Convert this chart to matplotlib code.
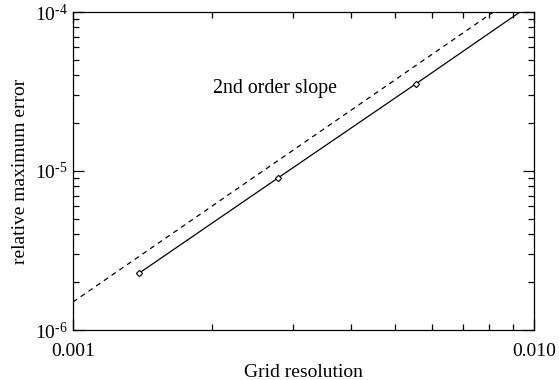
import matplotlib
matplotlib.use('Agg')
import matplotlib.pyplot as plt
from matplotlib.ticker import LogLocator, FixedLocator, NullFormatter

plt.rcParams['font.family'] = ['Liberation Serif', 'DejaVu Serif']
plt.rcParams['mathtext.fontset'] = 'custom'
plt.rcParams['mathtext.rm'] = 'Liberation Serif'
plt.rcParams['mathtext.it'] = 'Liberation Serif:italic'

# grid spacing and measured error (last point lies above the plot, clipped)
resolution = [1 / 720, 1 / 360, 1 / 180, 1 / 90]
max_error = [2.27e-6, 9.0e-6, 3.55e-5, 1.42e-4]

# reference line with 2nd order slope
slope_x = [0.001, 0.01]
slope_y = [1.5e-6, 1.5e-4]

x_ticks = [0.001, 0.01]
x_labels = ['0.001', '0.010']
y_ticks = [1e-6, 1e-5, 1e-4]
y_labels = ['$10^{\u20106}$', '$10^{\u20105}$', '$10^{\u20104}$']

fig = plt.figure(figsize=(5.59, 3.8), dpi=100)
ax = fig.add_axes([73 / 559, 50 / 380, 461 / 559, 318 / 380])

ax.plot(resolution, max_error, color='black', lw=0.9)
ax.plot(resolution[:3], max_error[:3], ls='none', marker='D', ms=3.2,
        mfc='white', mec='black', mew=0.8)
ax.plot(slope_x, slope_y, color='black', lw=0.9, ls=(0, (4, 3.5)))

ax.set_xscale('log')
ax.set_yscale('log')
ax.set_xlim(0.001, 0.01)
ax.set_ylim(1e-6, 1e-4)

ax.xaxis.set_major_locator(FixedLocator(x_ticks))
ax.set_xticklabels(x_labels)
ax.yaxis.set_major_locator(FixedLocator(y_ticks))
ax.set_yticklabels(y_labels)
ax.xaxis.set_minor_locator(LogLocator(base=10, subs=range(2, 10)))
ax.yaxis.set_minor_locator(LogLocator(base=10, subs=range(2, 10)))
ax.xaxis.set_minor_formatter(NullFormatter())
ax.yaxis.set_minor_formatter(NullFormatter())

ax.tick_params(which='both', direction='in', top=True, right=True,
               labelsize=14, width=0.9, color='black')
ax.tick_params(which='major', length=8)
ax.tick_params(axis='x', which='major', pad=9)
ax.tick_params(axis='y', which='major', pad=4)
ax.tick_params(which='minor', length=4)
for s in ax.spines.values():
    s.set_linewidth(0.9)

ax.text(0.00201, 3.3e-5, '2nd order slope', fontsize=14.3, va='center')

ax.set_xlabel('Grid resolution', fontsize=14, labelpad=3)
ax.set_ylabel('relative maximum error', fontsize=14, labelpad=4)

fig.savefig('out.png', dpi=100)
